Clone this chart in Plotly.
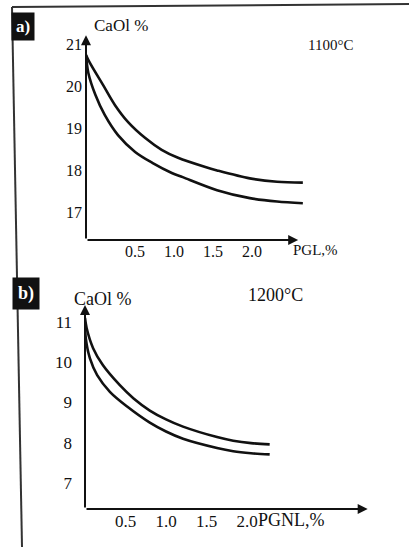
import plotly.graph_objects as go

# ---- data ----
a_upper_x = [0.0, 0.05, 0.22, 0.37, 0.54, 0.76, 0.97, 1.18, 1.53, 1.68, 2.10, 2.45, 2.78]
a_upper_y = [20.74, 20.55, 20.02, 19.55, 19.14, 18.76, 18.48, 18.29, 18.07, 17.99, 17.80, 17.72, 17.70]
a_lower_x = [0.0, 0.03, 0.12, 0.24, 0.41, 0.63, 0.85, 1.10, 1.24, 1.68, 2.10, 2.45, 2.78]
a_lower_y = [20.74, 20.31, 19.79, 19.31, 18.83, 18.43, 18.17, 17.93, 17.83, 17.52, 17.33, 17.25, 17.21]

b_upper_x = [0.0, 0.02, 0.10, 0.22, 0.43, 0.60, 0.80, 1.00, 1.21, 1.63, 1.83, 2.05, 2.28]
b_upper_y = [11.10, 10.85, 10.35, 9.93, 9.43, 9.10, 8.80, 8.58, 8.40, 8.14, 8.05, 7.99, 7.96]
b_lower_x = [0.0, 0.01, 0.06, 0.15, 0.31, 0.52, 0.80, 1.00, 1.21, 1.63, 1.83, 2.05, 2.28]
b_lower_y = [11.0, 10.59, 10.10, 9.68, 9.26, 8.90, 8.50, 8.28, 8.10, 7.87, 7.79, 7.74, 7.71]

a_yticks = [17, 18, 19, 20, 21]
b_yticks = [7, 8, 9, 10, 11]
x_ticks = [0.5, 1.0, 1.5, 2.0]
x_ticklabels = ["0.5", "1.0", "1.5", "2.0"]

W, H = 409, 547
SERIF = "Liberation Serif"
INK = "#111111"

def px(x):
    return x / W

def py(y):
    return 1 - y / H

fig = go.Figure()
line = dict(color=INK, width=2.6, shape="spline", smoothing=0.9)
fig.add_trace(go.Scatter(x=a_upper_x, y=a_upper_y, mode="lines", line=line, xaxis="x", yaxis="y", showlegend=False))
fig.add_trace(go.Scatter(x=a_lower_x, y=a_lower_y, mode="lines", line=line, xaxis="x", yaxis="y", showlegend=False))
fig.add_trace(go.Scatter(x=b_upper_x, y=b_upper_y, mode="lines", line=line, xaxis="x2", yaxis="y2", showlegend=False))
fig.add_trace(go.Scatter(x=b_lower_x, y=b_lower_y, mode="lines", line=line, xaxis="x2", yaxis="y2", showlegend=False))

common = dict(showgrid=False, zeroline=False, showline=False, ticks="", fixedrange=True)
fa = dict(family=SERIF, size=16, color=INK)
fb = dict(family=SERIF, size=17, color=INK)

fig.update_layout(
    width=W, height=H,
    margin=dict(l=0, r=0, t=0, b=0),
    paper_bgcolor="white", plot_bgcolor="rgba(0,0,0,0)",
    xaxis=dict(domain=[px(86), px(330)], range=[0, (330 - 86) / 78], anchor="y",
               tickvals=x_ticks, ticktext=x_ticklabels, ticklabelshift=10, tickfont=fa, **common),
    yaxis=dict(domain=[py(240), py(30)], range=[21 - (240 - 44) / 42, 21 - (30 - 44) / 42], anchor="x",
               tickvals=a_yticks, ticklabelstandoff=3, tickfont=fa, **common),
    xaxis2=dict(domain=[px(85), px(372)], range=[0, (372 - 85) / 81], anchor="y2",
                tickvals=x_ticks, ticktext=x_ticklabels, tickfont=fb, **common),
    yaxis2=dict(domain=[py(509), py(300)], range=[11 - (509 - 322) / 40.25, 11 - (300 - 322) / 40.25], anchor="x2",
                tickvals=b_yticks, ticklabelstandoff=12, tickfont=fb, **common),
)

ann = []
# axis arrows
a_y0 = 21 - (240 - 44) / 42
b_y0 = 11 - (509 - 322) / 40.25
for (xr, yr, x0, y0, xtip, ytip) in [
    ("x", "y", 0, a_y0, 0, 21.21),
    ("x", "y", 0, a_y0, 2.72, a_y0),
    ("x2", "y2", 0, b_y0, 0, 11.42),
    ("x2", "y2", 0, b_y0, 3.49, b_y0),
]:
    ann.append(dict(x=xtip, y=ytip, ax=x0, ay=y0, xref=xr, yref=yr, axref=xr, ayref=yr,
                    showarrow=True, arrowhead=2, arrowsize=1, arrowwidth=2, arrowcolor=INK, text=""))

def label(text, x, y, size=16, xanchor="left"):
    ann.append(dict(text=text, x=px(x), y=py(y), xref="paper", yref="paper", showarrow=False,
                    xanchor=xanchor, yanchor="middle", font=dict(family=SERIF, size=size, color=INK)))

label("CaOl %", 92, 25, 17)
label("1100°C", 306, 45, 15)
label("PGL,%", 291, 250, 15)
label("CaOl %", 72, 299, 18)
label("1200°C", 246, 295, 18)
label("PGNL,%", 256, 520, 18)

# panel tags
ann.append(dict(text="<b>a)</b>", x=px(22.5), y=py(26.5), xref="paper", yref="paper", showarrow=False,
                xanchor="center", yanchor="middle",
                font=dict(family=SERIF, size=17, color="white"), bgcolor="#111", borderpad=4))
ann.append(dict(text="<b>b)</b>", x=px(26.5), y=py(293), xref="paper", yref="paper", showarrow=False,
                xanchor="center", yanchor="middle",
                font=dict(family=SERIF, size=18, color="white"), bgcolor="#111", borderpad=5))

fig.update_layout(annotations=ann)

# frame lines of the scanned page
fig.update_layout(shapes=[
    dict(type="line", xref="paper", yref="paper", x0=px(12), y0=py(7), x1=px(409), y1=py(4),
         line=dict(color="#333", width=2)),
    dict(type="line", xref="paper", yref="paper", x0=px(12), y0=py(7), x1=px(22), y1=py(547),
         line=dict(color="#333", width=2)),
])

fig.write_html("out.html", config={"displayModeBar": False},
               post_script="document.body.style.margin='0';document.body.style.overflow='hidden';")
